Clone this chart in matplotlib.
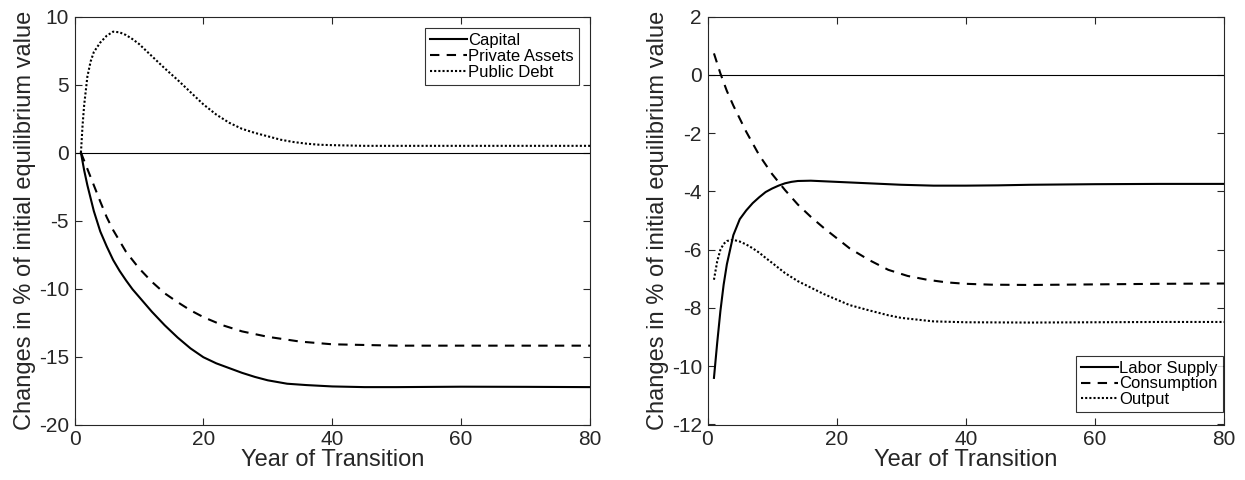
import numpy as np
import matplotlib
matplotlib.use("Agg")
import matplotlib.pyplot as plt

plt.rcParams['font.family'] = ['Liberation Sans', 'DejaVu Sans']
plt.rcParams['axes.unicode_minus'] = False

# --- left panel data (years, % change) ---
cap_yr = [1, 1.5, 2, 3, 4, 5, 6, 7, 8, 9, 10, 12, 14, 16, 18, 20, 22, 24, 26, 28, 30, 33, 36,
          40, 45, 50, 60, 70, 80]
capital = [0, -1.3, -2.4, -4.3, -5.8, -6.9, -7.9, -8.7, -9.4, -10.05, -10.6, -11.7, -12.7,
           -13.6, -14.4, -15.05, -15.5, -15.85, -16.2, -16.5, -16.75, -17.0, -17.1, -17.2,
           -17.25, -17.25, -17.22, -17.23, -17.25]

pa_yr = [1, 2, 3, 4, 5, 6, 8, 10, 12, 14, 16, 18, 20, 23, 26, 30, 35, 40, 45, 50, 60, 80]
private_assets = [0, -1.2, -2.4, -3.6, -4.75, -5.7, -7.3, -8.5, -9.5, -10.35, -11.0, -11.6,
                  -12.1, -12.7, -13.15, -13.55, -13.9, -14.1, -14.15, -14.2, -14.2, -14.2]

pd_yr = [1, 1.25, 1.5, 2, 2.5, 3, 4, 5, 6, 7, 8, 9, 10, 12, 14, 16, 18, 20, 22, 24, 26, 28,
         30, 32, 34, 36, 38, 40, 45, 50, 80]
public_debt = [0, 2.0, 3.5, 5.6, 6.7, 7.4, 8.1, 8.6, 8.9, 8.85, 8.65, 8.35, 8.0, 7.1, 6.2,
               5.35, 4.45, 3.55, 2.8, 2.2, 1.75, 1.45, 1.2, 0.95, 0.78, 0.66, 0.58, 0.55,
               0.5, 0.5, 0.5]

# --- right panel data ---
ls_yr = [1, 1.5, 2, 2.5, 3, 3.5, 4, 5, 6, 7, 8, 9, 10, 11, 12, 13, 14, 16, 18, 20, 25, 30,
         35, 40, 45, 50, 60, 70, 80]
labor_supply = [-10.4, -9.2, -8.1, -7.2, -6.5, -6.0, -5.5, -4.95, -4.65, -4.4, -4.2, -4.02,
                -3.9, -3.8, -3.72, -3.67, -3.64, -3.63, -3.65, -3.67, -3.72, -3.77, -3.8,
                -3.8, -3.79, -3.77, -3.75, -3.74, -3.74]

co_yr = [1, 2, 3, 4, 5, 6, 8, 10, 12, 14, 16, 18, 20, 22, 25, 28, 31, 34, 37, 40, 44, 50,
         60, 70, 80]
consumption = [0.74, 0.05, -0.55, -1.05, -1.5, -1.95, -2.75, -3.4, -3.95, -4.45, -4.87,
               -5.25, -5.6, -5.95, -6.35, -6.69, -6.9, -7.03, -7.12, -7.17, -7.2, -7.21,
               -7.19, -7.17, -7.16]

out_yr = [1, 1.5, 2, 2.5, 3, 4, 5, 6, 7, 8, 9, 10, 12, 14, 16, 18, 20, 22, 25, 28, 30, 35,
          40, 50, 60, 70, 80]
output = [-7.03, -6.4, -6.0, -5.8, -5.7, -5.66, -5.72, -5.82, -5.95, -6.1, -6.28, -6.45,
          -6.8, -7.08, -7.3, -7.52, -7.71, -7.9, -8.08, -8.25, -8.34, -8.46, -8.49, -8.5,
          -8.49, -8.48, -8.48]

fig = plt.figure(figsize=(12.45, 4.8), dpi=100)
ax1 = fig.add_axes([74.5/1245, 55.5/480, 515.5/1245, 407.8/480])
ax2 = fig.add_axes([707.5/1245, 55.5/480, 516.5/1245, 407.8/480])

lw = 1.5
dash = (0, (4.5, 3.5))
dots = (0, (1, 1))
tc = '#262626'

ax1.axhline(0, color='k', lw=0.8)
ax1.plot(cap_yr, capital, 'k-', lw=lw, label='Capital')
ax1.plot(pa_yr, private_assets, 'k', ls=dash, lw=lw, label='Private Assets')
ax1.plot(pd_yr, public_debt, 'k', ls=dots, lw=lw, label='Public Debt')
ax1.set_xlim(0, 80)
ax1.set_ylim(-20, 10)
ax1.set_yticks(np.arange(-20, 11, 5))

ax2.axhline(0, color='k', lw=0.8)
ax2.plot(ls_yr, labor_supply, 'k-', lw=lw, label='Labor Supply')
ax2.plot(co_yr, consumption, 'k', ls=dash, lw=lw, label='Consumption')
ax2.plot(out_yr, output, 'k', ls=dots, lw=lw, label='Output')
ax2.set_xlim(0, 80)
ax2.set_ylim(-12, 2)
ax2.set_yticks(np.arange(-12, 3, 2))

legs = ((ax1, 'upper right', (0.9787, 0.9716)), (ax2, 'lower right', (0.9975, 0.030)))
for ax, loc, anchor in legs:
    ax.set_xticks([0, 20, 40, 60, 80])
    ax.tick_params(direction='in', top=True, right=True, labelsize=15, colors=tc,
                   length=5, width=0.8, pad=4)
    for s in ax.spines.values():
        s.set_color(tc)
        s.set_linewidth(0.8)
    ax.set_xlabel('Year of Transition', fontsize=17, color=tc, labelpad=0)
    ax.set_ylabel('Changes in % of initial equilibrium value', fontsize=17, color=tc, labelpad=2)
    leg = ax.legend(loc=loc, bbox_to_anchor=anchor, fontsize=12, frameon=True, fancybox=False,
                    handlelength=2.2, handletextpad=0.1, borderpad=0.3, labelspacing=0.05,
                    borderaxespad=0)
    leg.get_frame().set_edgecolor('k')
    leg.get_frame().set_linewidth(0.8)
    for t in leg.get_texts():
        t.set_color('k')

fig.savefig('out.png', dpi=100)
